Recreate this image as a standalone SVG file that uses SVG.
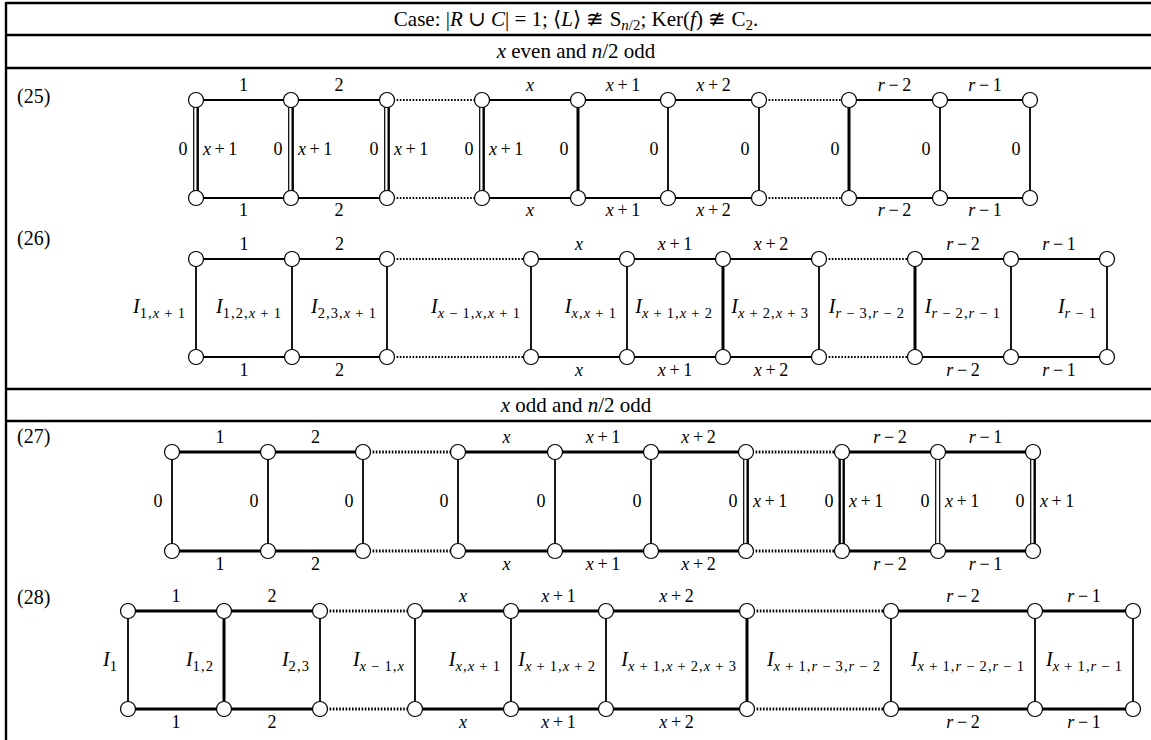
<svg xmlns="http://www.w3.org/2000/svg" width="1151" height="740" viewBox="0 0 1151 740">
<style>
text { font-family: "Liberation Serif", "DejaVu Serif", serif; fill:#000; }
.h { font-size:21px; text-anchor:middle; }
.hs { font-size:15px; }
.rl { font-size:20px; }
.l { font-size:18px; text-anchor:middle; }
.ls { font-size:18px; text-anchor:start; }
.v { font-size:20px; text-anchor:end; }
.s { font-size:14.5px; letter-spacing:1.1px; }
.i { font-style:italic; }
.tb { stroke:#000; stroke-width:2.4; fill:none; }
.e { stroke:#000; stroke-width:1.8; fill:none; }
.eb { stroke:#000; stroke-width:3; fill:none; }
.dt { stroke:#000; stroke-width:2; stroke-dasharray:1.6 1.6; fill:none; }
.dtb { stroke:#000; stroke-width:2.8; stroke-dasharray:1.6 1.6; fill:none; }
.vn { stroke:#000; stroke-width:1.8; fill:none; }
.vt { stroke:#000; stroke-width:3; fill:none; }
.d1 { stroke:#000; stroke-width:1.2; fill:none; }
.d2 { stroke:#000; stroke-width:2.4; fill:none; }
.n { fill:#fff; stroke:#000; stroke-width:1.2; }
</style>
<rect width="1151" height="740" fill="#fff"/>
<g id="table">
<path class="tb" d="M6 3H1151M6 35H1151M6 68H1151M6 389H1151M6 421H1151M6 2V740"/>
<text class="h" x="576" y="26">Case: |<tspan class="i">R</tspan> ∪ <tspan class="i">C</tspan>| = 1; ⟨<tspan class="i">L</tspan>⟩ ≇ S<tspan class="hs" dy="4"><tspan class="i">n</tspan>/2</tspan><tspan dy="-4">; Ker(</tspan><tspan class="i">f</tspan>) ≇ C<tspan class="hs" dy="4">2</tspan><tspan dy="-4">.</tspan></text>
<text class="h" x="576" y="58"><tspan class="i">x</tspan> even and <tspan class="i">n</tspan>/2 odd</text>
<text class="h" x="576" y="412"><tspan class="i">x</tspan> odd and <tspan class="i">n</tspan>/2 odd</text>
<text class="rl" x="17" y="103">(25)</text>
<text class="rl" x="17" y="245">(26)</text>
<text class="rl" x="17" y="443">(27)</text>
<text class="rl" x="17" y="604">(28)</text>
</g>

<!-- Row 25 -->
<g id="connectors25">
<path class="e" d="M196 100H387M482 100H759M849 100H1030M196 198H387M482 198H759M849 198H1030"/>
<path class="dt" d="M387 100H482M759 100H849M387 198H482M759 198H849"/>
<path class="d1" d="M193.7 100V198M288.7 100V198M384.7 100V198M479.7 100V198"/>
<path class="d2" d="M197.7 100V198M292.7 100V198M388.7 100V198M483.7 100V198"/>
<path class="vt" d="M578 100V198M849 100V198"/>
<path class="vn" d="M668 100V198M759 100V198M940 100V198M1030 100V198"/>
</g>
<g id="labels25">
<text class="l" x="243.5" y="91">1</text><text class="l" x="339" y="91">2</text>
<text class="l i" x="530" y="91">x</text>
<text class="l" x="623" y="91"><tspan class="i">x</tspan>&#8201;+&#8201;1</text>
<text class="l" x="713.5" y="91"><tspan class="i">x</tspan>&#8201;+&#8201;2</text>
<text class="l" x="894.5" y="91"><tspan class="i">r</tspan>&#8201;−&#8201;2</text>
<text class="l" x="985" y="91"><tspan class="i">r</tspan>&#8201;−&#8201;1</text>
<text class="l" x="243.5" y="216">1</text><text class="l" x="339" y="216">2</text>
<text class="l i" x="530" y="216">x</text>
<text class="l" x="623" y="216"><tspan class="i">x</tspan>&#8201;+&#8201;1</text>
<text class="l" x="713.5" y="216"><tspan class="i">x</tspan>&#8201;+&#8201;2</text>
<text class="l" x="894.5" y="216"><tspan class="i">r</tspan>&#8201;−&#8201;2</text>
<text class="l" x="985" y="216"><tspan class="i">r</tspan>&#8201;−&#8201;1</text>
<text class="l" x="183" y="155">0</text><text class="l" x="278" y="155">0</text><text class="l" x="374" y="155">0</text><text class="l" x="469" y="155">0</text>
<text class="ls" x="203" y="155"><tspan class="i">x</tspan>&#8201;+&#8201;1</text>
<text class="ls" x="298" y="155"><tspan class="i">x</tspan>&#8201;+&#8201;1</text>
<text class="ls" x="394" y="155"><tspan class="i">x</tspan>&#8201;+&#8201;1</text>
<text class="ls" x="489" y="155"><tspan class="i">x</tspan>&#8201;+&#8201;1</text>
<text class="l" x="564" y="155">0</text><text class="l" x="654" y="155">0</text><text class="l" x="745" y="155">0</text>
<text class="l" x="835" y="155">0</text><text class="l" x="926" y="155">0</text><text class="l" x="1016" y="155">0</text>
</g>
<g id="n25t0"><circle class="n" cx="196" cy="100" r="7.5"/></g>
<g id="n25t1"><circle class="n" cx="291" cy="100" r="7.5"/></g>
<g id="n25t2"><circle class="n" cx="387" cy="100" r="7.5"/></g>
<g id="n25t3"><circle class="n" cx="482" cy="100" r="7.5"/></g>
<g id="n25t4"><circle class="n" cx="578" cy="100" r="7.5"/></g>
<g id="n25t5"><circle class="n" cx="668" cy="100" r="7.5"/></g>
<g id="n25t6"><circle class="n" cx="759" cy="100" r="7.5"/></g>
<g id="n25t7"><circle class="n" cx="849" cy="100" r="7.5"/></g>
<g id="n25t8"><circle class="n" cx="940" cy="100" r="7.5"/></g>
<g id="n25t9"><circle class="n" cx="1030" cy="100" r="7.5"/></g>
<g id="n25b0"><circle class="n" cx="196" cy="198" r="7.5"/></g>
<g id="n25b1"><circle class="n" cx="291" cy="198" r="7.5"/></g>
<g id="n25b2"><circle class="n" cx="387" cy="198" r="7.5"/></g>
<g id="n25b3"><circle class="n" cx="482" cy="198" r="7.5"/></g>
<g id="n25b4"><circle class="n" cx="578" cy="198" r="7.5"/></g>
<g id="n25b5"><circle class="n" cx="668" cy="198" r="7.5"/></g>
<g id="n25b6"><circle class="n" cx="759" cy="198" r="7.5"/></g>
<g id="n25b7"><circle class="n" cx="849" cy="198" r="7.5"/></g>
<g id="n25b8"><circle class="n" cx="940" cy="198" r="7.5"/></g>
<g id="n25b9"><circle class="n" cx="1030" cy="198" r="7.5"/></g>

<!-- Row 26 -->
<g id="connectors26">
<path class="e" d="M196 259H387M531 259H819M915 259H1107M196 357H387M531 357H819M915 357H1107"/>
<path class="dt" d="M387 259H531M819 259H915M387 357H531M819 357H915"/>
<path class="vt" d="M723 259V357M915 259V357"/>
<path class="vn" d="M196 259V357M292 259V357M387 259V357M531 259V357M627 259V357M819 259V357M1011 259V357M1107 259V357"/>
</g>
<g id="labels26">
<text class="l" x="244" y="250">1</text><text class="l" x="339.5" y="250">2</text>
<text class="l i" x="579" y="250">x</text>
<text class="l" x="675" y="250"><tspan class="i">x</tspan>&#8201;+&#8201;1</text>
<text class="l" x="771" y="250"><tspan class="i">x</tspan>&#8201;+&#8201;2</text>
<text class="l" x="963" y="250"><tspan class="i">r</tspan>&#8201;−&#8201;2</text>
<text class="l" x="1059" y="250"><tspan class="i">r</tspan>&#8201;−&#8201;1</text>
<text class="l" x="244" y="376">1</text><text class="l" x="339.5" y="376">2</text>
<text class="l i" x="579" y="376">x</text>
<text class="l" x="675" y="376"><tspan class="i">x</tspan>&#8201;+&#8201;1</text>
<text class="l" x="771" y="376"><tspan class="i">x</tspan>&#8201;+&#8201;2</text>
<text class="l" x="963" y="376"><tspan class="i">r</tspan>&#8201;−&#8201;2</text>
<text class="l" x="1059" y="376"><tspan class="i">r</tspan>&#8201;−&#8201;1</text>
<text class="v" x="186" y="313"><tspan class="i">I</tspan><tspan class="s" dy="5">1,<tspan class="i">x</tspan>&#8201;+&#8201;1</tspan></text>
<text class="v" x="282" y="313"><tspan class="i">I</tspan><tspan class="s" dy="5">1,2,<tspan class="i">x</tspan>&#8201;+&#8201;1</tspan></text>
<text class="v" x="377" y="313"><tspan class="i">I</tspan><tspan class="s" dy="5">2,3,<tspan class="i">x</tspan>&#8201;+&#8201;1</tspan></text>
<text class="v" x="521" y="313"><tspan class="i">I</tspan><tspan class="s" dy="5"><tspan class="i">x</tspan>&#8201;−&#8201;1,<tspan class="i">x</tspan>,<tspan class="i">x</tspan>&#8201;+&#8201;1</tspan></text>
<text class="v" x="617" y="313"><tspan class="i">I</tspan><tspan class="s" dy="5"><tspan class="i">x</tspan>,<tspan class="i">x</tspan>&#8201;+&#8201;1</tspan></text>
<text class="v" x="713" y="313"><tspan class="i">I</tspan><tspan class="s" dy="5"><tspan class="i">x</tspan>&#8201;+&#8201;1,<tspan class="i">x</tspan>&#8201;+&#8201;2</tspan></text>
<text class="v" x="809" y="313"><tspan class="i">I</tspan><tspan class="s" dy="5"><tspan class="i">x</tspan>&#8201;+&#8201;2,<tspan class="i">x</tspan>&#8201;+&#8201;3</tspan></text>
<text class="v" x="905" y="313"><tspan class="i">I</tspan><tspan class="s" dy="5"><tspan class="i">r</tspan>&#8201;−&#8201;3,<tspan class="i">r</tspan>&#8201;−&#8201;2</tspan></text>
<text class="v" x="1001" y="313"><tspan class="i">I</tspan><tspan class="s" dy="5"><tspan class="i">r</tspan>&#8201;−&#8201;2,<tspan class="i">r</tspan>&#8201;−&#8201;1</tspan></text>
<text class="v" x="1097" y="313"><tspan class="i">I</tspan><tspan class="s" dy="5"><tspan class="i">r</tspan>&#8201;−&#8201;1</tspan></text>
</g>
<g id="n26t0"><circle class="n" cx="196" cy="259" r="7.5"/></g>
<g id="n26t1"><circle class="n" cx="292" cy="259" r="7.5"/></g>
<g id="n26t2"><circle class="n" cx="387" cy="259" r="7.5"/></g>
<g id="n26t3"><circle class="n" cx="531" cy="259" r="7.5"/></g>
<g id="n26t4"><circle class="n" cx="627" cy="259" r="7.5"/></g>
<g id="n26t5"><circle class="n" cx="723" cy="259" r="7.5"/></g>
<g id="n26t6"><circle class="n" cx="819" cy="259" r="7.5"/></g>
<g id="n26t7"><circle class="n" cx="915" cy="259" r="7.5"/></g>
<g id="n26t8"><circle class="n" cx="1011" cy="259" r="7.5"/></g>
<g id="n26t9"><circle class="n" cx="1107" cy="259" r="7.5"/></g>
<g id="n26b0"><circle class="n" cx="196" cy="357" r="7.5"/></g>
<g id="n26b1"><circle class="n" cx="292" cy="357" r="7.5"/></g>
<g id="n26b2"><circle class="n" cx="387" cy="357" r="7.5"/></g>
<g id="n26b3"><circle class="n" cx="531" cy="357" r="7.5"/></g>
<g id="n26b4"><circle class="n" cx="627" cy="357" r="7.5"/></g>
<g id="n26b5"><circle class="n" cx="723" cy="357" r="7.5"/></g>
<g id="n26b6"><circle class="n" cx="819" cy="357" r="7.5"/></g>
<g id="n26b7"><circle class="n" cx="915" cy="357" r="7.5"/></g>
<g id="n26b8"><circle class="n" cx="1011" cy="357" r="7.5"/></g>
<g id="n26b9"><circle class="n" cx="1107" cy="357" r="7.5"/></g>

<!-- Row 27 -->
<g id="connectors27">
<path class="eb" d="M172 452H363M458 452H746M842 452H1033M172 551H363M458 551H746M842 551H1033"/>
<path class="dtb" d="M363 452H458M746 452H842M363 551H458M746 551H842"/>
<path class="vn" d="M172 452V551M268 452V551M363 452V551M458 452V551M555 452V551M651 452V551"/>
<path class="d1" d="M743.7 452V551M935.7 452V551M1030.7 452V551"/>
<path class="d2" d="M747.7 452V551M843.7 452V551M1034.7 452V551"/>
<path class="d2" d="M839.7 452V551"/>
<path class="d1" d="M939.7 452V551"/>
</g>
<g id="labels27">
<text class="l" x="220" y="443">1</text><text class="l" x="315.5" y="443">2</text>
<text class="l i" x="506.5" y="443">x</text>
<text class="l" x="603" y="443"><tspan class="i">x</tspan>&#8201;+&#8201;1</text>
<text class="l" x="698.5" y="443"><tspan class="i">x</tspan>&#8201;+&#8201;2</text>
<text class="l" x="890" y="443"><tspan class="i">r</tspan>&#8201;−&#8201;2</text>
<text class="l" x="985.5" y="443"><tspan class="i">r</tspan>&#8201;−&#8201;1</text>
<text class="l" x="220" y="570">1</text><text class="l" x="315.5" y="570">2</text>
<text class="l i" x="506.5" y="570">x</text>
<text class="l" x="603" y="570"><tspan class="i">x</tspan>&#8201;+&#8201;1</text>
<text class="l" x="698.5" y="570"><tspan class="i">x</tspan>&#8201;+&#8201;2</text>
<text class="l" x="890" y="570"><tspan class="i">r</tspan>&#8201;−&#8201;2</text>
<text class="l" x="985.5" y="570"><tspan class="i">r</tspan>&#8201;−&#8201;1</text>
<text class="l" x="158" y="507">0</text><text class="l" x="254" y="507">0</text><text class="l" x="349" y="507">0</text>
<text class="l" x="444" y="507">0</text><text class="l" x="541" y="507">0</text><text class="l" x="637" y="507">0</text>
<text class="l" x="733" y="507">0</text><text class="l" x="829" y="507">0</text><text class="l" x="925" y="507">0</text><text class="l" x="1020" y="507">0</text>
<text class="ls" x="753" y="507"><tspan class="i">x</tspan>&#8201;+&#8201;1</text>
<text class="ls" x="849" y="507"><tspan class="i">x</tspan>&#8201;+&#8201;1</text>
<text class="ls" x="945" y="507"><tspan class="i">x</tspan>&#8201;+&#8201;1</text>
<text class="ls" x="1040" y="507"><tspan class="i">x</tspan>&#8201;+&#8201;1</text>
</g>
<g id="n27t0"><circle class="n" cx="172" cy="452" r="7.5"/></g>
<g id="n27t1"><circle class="n" cx="268" cy="452" r="7.5"/></g>
<g id="n27t2"><circle class="n" cx="363" cy="452" r="7.5"/></g>
<g id="n27t3"><circle class="n" cx="458" cy="452" r="7.5"/></g>
<g id="n27t4"><circle class="n" cx="555" cy="452" r="7.5"/></g>
<g id="n27t5"><circle class="n" cx="651" cy="452" r="7.5"/></g>
<g id="n27t6"><circle class="n" cx="746" cy="452" r="7.5"/></g>
<g id="n27t7"><circle class="n" cx="842" cy="452" r="7.5"/></g>
<g id="n27t8"><circle class="n" cx="938" cy="452" r="7.5"/></g>
<g id="n27t9"><circle class="n" cx="1033" cy="452" r="7.5"/></g>
<g id="n27b0"><circle class="n" cx="172" cy="551" r="7.5"/></g>
<g id="n27b1"><circle class="n" cx="268" cy="551" r="7.5"/></g>
<g id="n27b2"><circle class="n" cx="363" cy="551" r="7.5"/></g>
<g id="n27b3"><circle class="n" cx="458" cy="551" r="7.5"/></g>
<g id="n27b4"><circle class="n" cx="555" cy="551" r="7.5"/></g>
<g id="n27b5"><circle class="n" cx="651" cy="551" r="7.5"/></g>
<g id="n27b6"><circle class="n" cx="746" cy="551" r="7.5"/></g>
<g id="n27b7"><circle class="n" cx="842" cy="551" r="7.5"/></g>
<g id="n27b8"><circle class="n" cx="938" cy="551" r="7.5"/></g>
<g id="n27b9"><circle class="n" cx="1033" cy="551" r="7.5"/></g>

<!-- Row 28 -->
<g id="connectors28">
<path class="eb" d="M128 611H320M415 611H747M891 611H1133M128 709H320M415 709H747M891 709H1133"/>
<path class="dtb" d="M320 611H415M747 611H891M320 709H415M747 709H891"/>
<path class="vt" d="M224 611V709M747 611V709"/>
<path class="vn" d="M128 611V709M320 611V709M415 611V709M511 611V709M606 611V709M891 611V709M1035 611V709M1133 611V709"/>
</g>
<g id="labels28">
<text class="l" x="176" y="602">1</text><text class="l" x="272" y="602">2</text>
<text class="l i" x="463" y="602">x</text>
<text class="l" x="558.5" y="602"><tspan class="i">x</tspan>&#8201;+&#8201;1</text>
<text class="l" x="676.5" y="602"><tspan class="i">x</tspan>&#8201;+&#8201;2</text>
<text class="l" x="963" y="602"><tspan class="i">r</tspan>&#8201;−&#8201;2</text>
<text class="l" x="1084" y="602"><tspan class="i">r</tspan>&#8201;−&#8201;1</text>
<text class="l" x="176" y="728">1</text><text class="l" x="272" y="728">2</text>
<text class="l i" x="463" y="728">x</text>
<text class="l" x="558.5" y="728"><tspan class="i">x</tspan>&#8201;+&#8201;1</text>
<text class="l" x="676.5" y="728"><tspan class="i">x</tspan>&#8201;+&#8201;2</text>
<text class="l" x="963" y="728"><tspan class="i">r</tspan>&#8201;−&#8201;2</text>
<text class="l" x="1084" y="728"><tspan class="i">r</tspan>&#8201;−&#8201;1</text>
<text class="v" x="118" y="666"><tspan class="i">I</tspan><tspan class="s" dy="5">1</tspan></text>
<text class="v" x="214" y="666"><tspan class="i">I</tspan><tspan class="s" dy="5">1,2</tspan></text>
<text class="v" x="310" y="666"><tspan class="i">I</tspan><tspan class="s" dy="5">2,3</tspan></text>
<text class="v" x="405" y="666"><tspan class="i">I</tspan><tspan class="s" dy="5"><tspan class="i">x</tspan>&#8201;−&#8201;1,<tspan class="i">x</tspan></tspan></text>
<text class="v" x="501" y="666"><tspan class="i">I</tspan><tspan class="s" dy="5"><tspan class="i">x</tspan>,<tspan class="i">x</tspan>&#8201;+&#8201;1</tspan></text>
<text class="v" x="596" y="666"><tspan class="i">I</tspan><tspan class="s" dy="5"><tspan class="i">x</tspan>&#8201;+&#8201;1,<tspan class="i">x</tspan>&#8201;+&#8201;2</tspan></text>
<text class="v" x="737" y="666"><tspan class="i">I</tspan><tspan class="s" dy="5"><tspan class="i">x</tspan>&#8201;+&#8201;1,<tspan class="i">x</tspan>&#8201;+&#8201;2,<tspan class="i">x</tspan>&#8201;+&#8201;3</tspan></text>
<text class="v" x="881" y="666"><tspan class="i">I</tspan><tspan class="s" dy="5"><tspan class="i">x</tspan>&#8201;+&#8201;1,<tspan class="i">r</tspan>&#8201;−&#8201;3,<tspan class="i">r</tspan>&#8201;−&#8201;2</tspan></text>
<text class="v" x="1025" y="666"><tspan class="i">I</tspan><tspan class="s" dy="5"><tspan class="i">x</tspan>&#8201;+&#8201;1,<tspan class="i">r</tspan>&#8201;−&#8201;2,<tspan class="i">r</tspan>&#8201;−&#8201;1</tspan></text>
<text class="v" x="1123" y="666"><tspan class="i">I</tspan><tspan class="s" dy="5"><tspan class="i">x</tspan>&#8201;+&#8201;1,<tspan class="i">r</tspan>&#8201;−&#8201;1</tspan></text>
</g>
<g id="n28t0"><circle class="n" cx="128" cy="611" r="7.5"/></g>
<g id="n28t1"><circle class="n" cx="224" cy="611" r="7.5"/></g>
<g id="n28t2"><circle class="n" cx="320" cy="611" r="7.5"/></g>
<g id="n28t3"><circle class="n" cx="415" cy="611" r="7.5"/></g>
<g id="n28t4"><circle class="n" cx="511" cy="611" r="7.5"/></g>
<g id="n28t5"><circle class="n" cx="606" cy="611" r="7.5"/></g>
<g id="n28t6"><circle class="n" cx="747" cy="611" r="7.5"/></g>
<g id="n28t7"><circle class="n" cx="891" cy="611" r="7.5"/></g>
<g id="n28t8"><circle class="n" cx="1035" cy="611" r="7.5"/></g>
<g id="n28t9"><circle class="n" cx="1133" cy="611" r="7.5"/></g>
<g id="n28b0"><circle class="n" cx="128" cy="709" r="7.5"/></g>
<g id="n28b1"><circle class="n" cx="224" cy="709" r="7.5"/></g>
<g id="n28b2"><circle class="n" cx="320" cy="709" r="7.5"/></g>
<g id="n28b3"><circle class="n" cx="415" cy="709" r="7.5"/></g>
<g id="n28b4"><circle class="n" cx="511" cy="709" r="7.5"/></g>
<g id="n28b5"><circle class="n" cx="606" cy="709" r="7.5"/></g>
<g id="n28b6"><circle class="n" cx="747" cy="709" r="7.5"/></g>
<g id="n28b7"><circle class="n" cx="891" cy="709" r="7.5"/></g>
<g id="n28b8"><circle class="n" cx="1035" cy="709" r="7.5"/></g>
<g id="n28b9"><circle class="n" cx="1133" cy="709" r="7.5"/></g>
</svg>
